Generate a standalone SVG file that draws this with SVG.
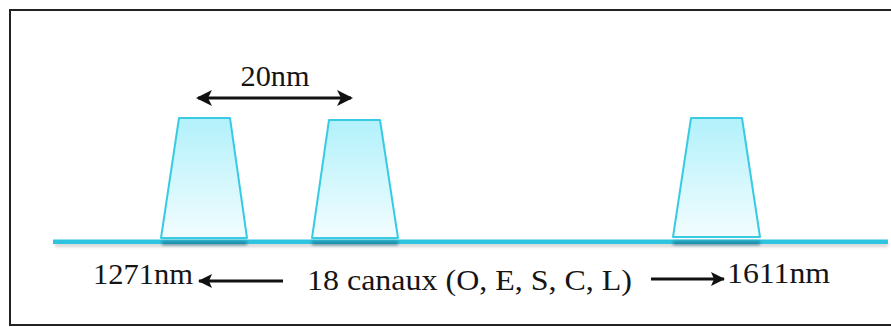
<svg xmlns="http://www.w3.org/2000/svg" width="891" height="327" viewBox="0 0 891 327">
  <defs>
    <linearGradient id="g" x1="0" y1="0" x2="0" y2="1">
      <stop offset="0" stop-color="#B2F1FB"/>
      <stop offset="1" stop-color="#F2FDFF"/>
    </linearGradient>
    <filter id="blur" x="-10%" y="-100%" width="120%" height="300%">
      <feGaussianBlur stdDeviation="1.5"/>
    </filter>
    <marker id="ah" viewBox="0 0 16 16" refX="14" refY="8" markerWidth="16" markerHeight="16" markerUnits="userSpaceOnUse" orient="auto-start-reverse">
      <path d="M0,0 L16,8 L0,16 L4,8 Z" fill="#111"/>
    </marker>
    <marker id="ah2" viewBox="0 0 14 14" refX="13" refY="7" markerWidth="14" markerHeight="14" markerUnits="userSpaceOnUse" orient="auto-start-reverse">
      <path d="M0,0 L14,7 L0,14 L3,7 Z" fill="#111"/>
    </marker>
  </defs>
  <style>
    .peak { fill: url(#g); stroke: #38CBE3; stroke-width: 2; stroke-linejoin: round; }
    .lbl { font-family: "Liberation Serif", "Times New Roman", serif; font-size: 29px; fill: #151515; }
    .arr { stroke: #111; stroke-width: 3; fill: none; }
  </style>
  <rect x="0" y="0" width="891" height="327" fill="#ffffff"/>
  <!-- frame -->
  <path d="M900,10 L10,10 L10,325 L900,325" fill="none" stroke="#222" stroke-width="2"/>

  <!-- baseline -->
  <g id="baseline">
    <rect x="55" y="243" width="833" height="4" fill="#888" opacity="0.35" filter="url(#blur)"/>
    <rect x="53" y="239.5" width="835" height="4.5" fill="#2EC4DF"/>
    <rect x="162" y="241" width="85" height="4" fill="#1A6F8A" opacity="0.7" filter="url(#blur)"/>
    <rect x="312" y="241" width="86" height="4" fill="#1A6F8A" opacity="0.7" filter="url(#blur)"/>
    <rect x="673" y="241" width="87" height="4" fill="#1A6F8A" opacity="0.7" filter="url(#blur)"/>
  </g>

  <g id="peak1"><polygon class="peak" points="179,118 230,118 247,238 161,238"/></g>
  <g id="peak2"><polygon class="peak" points="329,120 380,120 398,238 312,238"/></g>
  <g id="peak3"><polygon class="peak" points="691,118 742,118 760,237 673,237"/></g>

  <g id="connectors">
    <line class="arr" x1="198" y1="98" x2="351" y2="98" marker-start="url(#ah)" marker-end="url(#ah)"/>
    <line class="arr" x1="283" y1="281" x2="199" y2="281" marker-end="url(#ah2)"/>
    <line class="arr" x1="651" y1="279" x2="724" y2="279" marker-end="url(#ah2)"/>
  </g>

  <g id="labels">
    <text class="lbl" x="275" y="86" text-anchor="middle" textLength="69" lengthAdjust="spacingAndGlyphs">20nm</text>
    <text class="lbl" x="93" y="284" textLength="100" lengthAdjust="spacingAndGlyphs">1271nm</text>
    <text class="lbl" x="307" y="290" textLength="325" lengthAdjust="spacingAndGlyphs">18 canaux (O, E, S, C, L)</text>
    <text class="lbl" x="727" y="283" textLength="103" lengthAdjust="spacingAndGlyphs">1611nm</text>
  </g>
</svg>
